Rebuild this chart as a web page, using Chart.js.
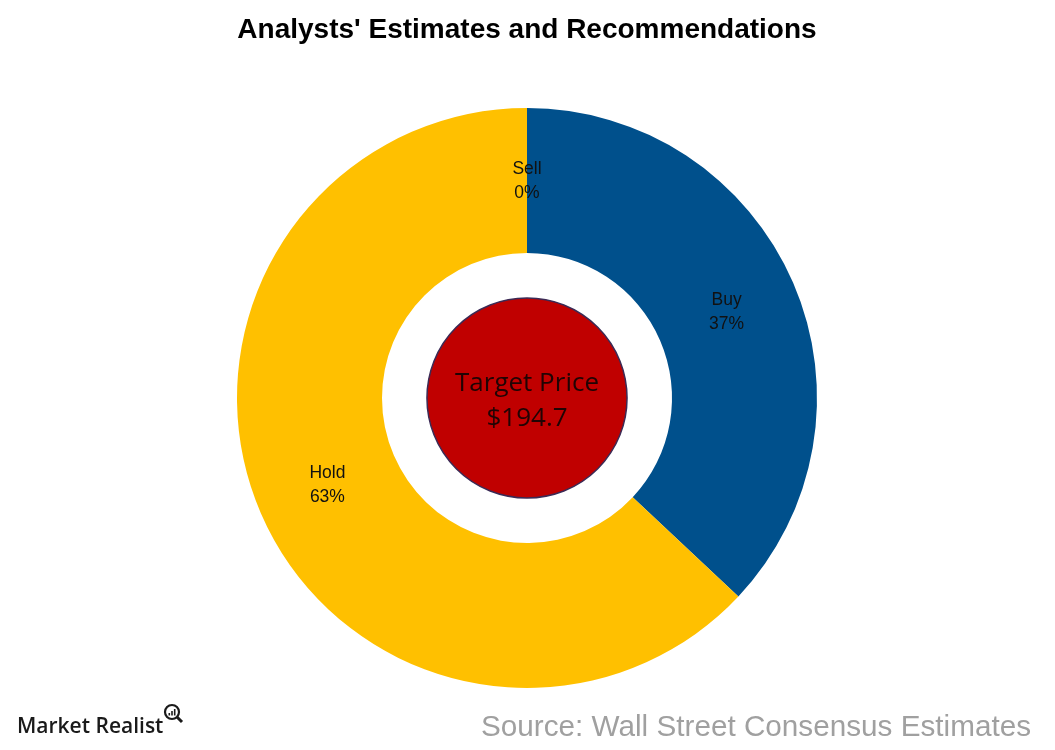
<!DOCTYPE html>
<html>
<head>
<meta charset="utf-8">
<script src="https://cdn.jsdelivr.net/npm/chart.js@4"></script>
<style>
  html, body { margin: 0; padding: 0; background: #fff; }
  #wrap { width: 1055px; height: 750px; position: relative; }
</style>
</head>
<body>
<div id="wrap"><canvas id="chart" width="1055" height="750"></canvas></div>
<script>
// 数据
const categories = ['Buy', 'Hold', 'Sell'];
const shares = [37, 63, 0];
const sliceColors = ['#00508C', '#FFC000', '#A5A5A5'];
const targetPrice = '$194.7';

// 扇区标签
const sliceLabels = {
  id: 'sliceLabels',
  afterDatasetsDraw(chart) {
    const ctx = chart.ctx;
    const meta = chart.getDatasetMeta(0);
    ctx.save();
    ctx.font = '17.5px "Liberation Sans", Arial, sans-serif';
    ctx.fillStyle = '#111';
    ctx.textAlign = 'center';
    ctx.textBaseline = 'middle';
    meta.data.forEach((arc, i) => {
      const p = arc.getCenterPoint();
      ctx.fillText(categories[i], p.x, p.y - 11);
      ctx.fillText(shares[i] + '%', p.x, p.y + 13);
    });
    ctx.restore();
  }
};

// 中心红色圆和目标价
const centerBadge = {
  id: 'centerBadge',
  afterDatasetsDraw(chart) {
    const ctx = chart.ctx;
    const arc = chart.getDatasetMeta(0).data[0];
    const cx = arc.x, cy = arc.y;
    const r = arc.innerRadius * 0.69;
    ctx.save();
    ctx.beginPath();
    ctx.arc(cx, cy, r, 0, Math.PI * 2);
    ctx.fillStyle = '#C00000';
    ctx.fill();
    ctx.lineWidth = 1.5;
    ctx.strokeStyle = '#3B2A55';
    ctx.stroke();
    ctx.fillStyle = '#200404';
    ctx.font = '26px "Open Sans", "Noto Sans", sans-serif';
    ctx.textAlign = 'center';
    ctx.textBaseline = 'middle';
    ctx.fillText('Target Price', cx, cy - 14);
    ctx.fillText(targetPrice, cx, cy + 21);
    ctx.restore();
  }
};

// 标题、来源、标志
const pageText = {
  id: 'pageText',
  afterDraw(chart) {
    const ctx = chart.ctx;
    ctx.save();
    ctx.fillStyle = '#000';
    ctx.font = 'bold 28px "Liberation Sans", Arial, sans-serif';
    ctx.textAlign = 'center';
    ctx.textBaseline = 'middle';
    ctx.fillText("Analysts' Estimates and Recommendations", 527, 30);

    ctx.fillStyle = '#A0A0A0';
    ctx.font = '29.7px "Liberation Sans", Arial, sans-serif';
    ctx.textAlign = 'right';
    ctx.textBaseline = 'alphabetic';
    ctx.fillText('Source: Wall Street Consensus Estimates', 1031, 736);

    ctx.fillStyle = '#1a1a1a';
    ctx.font = '600 21px "Open Sans", sans-serif';
    ctx.textAlign = 'left';
    ctx.fillText('Market Realist', 17, 733);
    // 放大镜
    ctx.strokeStyle = '#1a1a1a';
    ctx.lineWidth = 2.2;
    ctx.beginPath();
    ctx.arc(172, 712, 7, 0, Math.PI * 2);
    ctx.stroke();
    ctx.lineWidth = 3;
    ctx.beginPath();
    ctx.moveTo(177, 717);
    ctx.lineTo(182, 722);
    ctx.stroke();
    ctx.fillStyle = '#1a1a1a';
    ctx.fillRect(168.5, 713, 1.6, 2.5);
    ctx.fillRect(171.2, 711, 1.6, 4.5);
    ctx.fillRect(173.9, 709, 1.6, 6.5);
    ctx.restore();
  }
};

new Chart(document.getElementById('chart').getContext('2d'), {
  type: 'doughnut',
  data: {
    labels: categories,
    datasets: [{
      data: shares,
      backgroundColor: sliceColors,
      borderWidth: 0
    }]
  },
  options: {
    responsive: false,
    animation: false,
    cutout: '50%',
    layout: { padding: { top: 108, bottom: 62, left: 237, right: 238 } },
    plugins: {
      legend: { display: false },
      tooltip: { enabled: false },
      title: { display: false }
    }
  },
  plugins: [sliceLabels, centerBadge, pageText]
});
</script>
</body>
</html>
